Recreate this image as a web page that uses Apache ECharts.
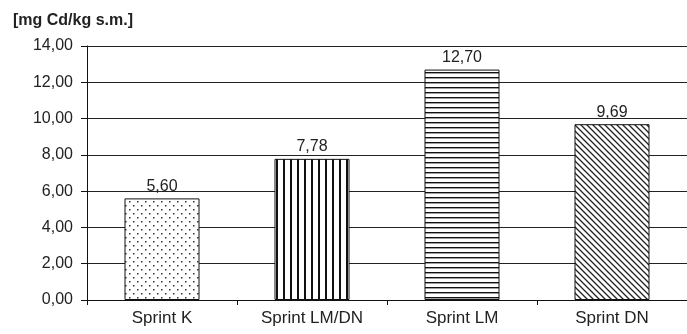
<!DOCTYPE html>
<html>
<head>
<meta charset="utf-8">
<script src="https://cdn.jsdelivr.net/npm/echarts@6/dist/echarts.min.js"></script>
<style>
  html, body { margin: 0; padding: 0; background: #fff; }
  #chart { width: 687px; height: 334px; }
</style>
</head>
<body>
<div id="chart"></div>
<script>
// data
var categories = ['Sprint K', 'Sprint LM/DN', 'Sprint LM', 'Sprint DN'];
var values = [5.60, 7.78, 12.70, 9.69];
var yTicks = [0, 2, 4, 6, 8, 10, 12, 14];
var unitLabel = '[mg Cd/kg s.m.]';

// fill patterns, one per bar
function makePattern(kind) {
  var c = document.createElement('canvas');
  var ctx = c.getContext('2d');
  if (kind === 'dots') {
    c.width = 8; c.height = 8;
    ctx.fillStyle = '#fff'; ctx.fillRect(0, 0, 8, 8);
    ctx.fillStyle = '#333';
    ctx.fillRect(1, 1, 1.5, 1.5);
    ctx.fillRect(5, 5, 1.5, 1.5);
  } else if (kind === 'vert') {
    c.width = 7.6; c.height = 8;
    ctx.fillStyle = '#fff'; ctx.fillRect(0, 0, 8, 8);
    ctx.fillStyle = '#111';
    ctx.fillRect(3, 0, 2, 8);
  } else if (kind === 'horiz') {
    c.width = 8; c.height = 5;
    ctx.fillStyle = '#fff'; ctx.fillRect(0, 0, 8, 5);
    ctx.fillStyle = '#111';
    ctx.fillRect(0, 2, 8, 1.4);
  } else {
    c.width = 6; c.height = 6;
    ctx.fillStyle = '#fff'; ctx.fillRect(0, 0, 6, 6);
    ctx.strokeStyle = '#222';
    ctx.lineWidth = 1.3;
    ctx.beginPath();
    ctx.moveTo(-1, -1); ctx.lineTo(7, 7);
    ctx.moveTo(-4, 2); ctx.lineTo(2, 8);
    ctx.moveTo(2, -4); ctx.lineTo(8, 2);
    ctx.stroke();
  }
  return c;
}
var patterns = ['dots', 'vert', 'horiz', 'diag'];

var chart = echarts.init(document.getElementById('chart'));

function fmt(v) {
  return v.toFixed(2).replace('.', ',');
}

var font = 'Liberation Sans, Arial, sans-serif';

var option = {
  animation: false,
  textStyle: { fontFamily: font },
  title: {
    text: unitLabel,
    left: 8,
    top: 8,
    textStyle: { fontSize: 16, fontWeight: 'bold', color: '#222', fontFamily: font }
  },
  grid: {
    left: 87,
    right: -4,
    top: 46,
    bottom: 34,
    containLabel: false
  },
  xAxis: {
    type: 'category',
    data: categories,
    axisLine: { lineStyle: { color: '#111', width: 1 } },
    axisTick: { show: true, length: 5, lineStyle: { color: '#111' } },
    axisLabel: { color: '#222', fontSize: 17, margin: 10 }
  },
  yAxis: {
    type: 'value',
    min: yTicks[0],
    max: yTicks[yTicks.length - 1],
    interval: 2,
    axisLine: { show: true, lineStyle: { color: '#111', width: 1 } },
    axisTick: { show: true, length: 6, lineStyle: { color: '#111' } },
    axisLabel: { color: '#222', fontSize: 16, margin: 14, formatter: fmt },
    splitLine: { lineStyle: { color: '#222', width: 1 } }
  },
  series: [{
    type: 'bar',
    barWidth: '50%',
    data: values.map(function (v, i) {
      return {
        value: v,
        itemStyle: {
          color: { image: makePattern(patterns[i]), repeat: 'repeat' },
          borderColor: '#111',
          borderWidth: 1
        }
      };
    }),
    label: {
      show: true,
      position: 'top',
      distance: 4,
      color: '#222',
      fontSize: 16,
      formatter: function (p) { return fmt(p.value); }
    }
  }]
};

chart.setOption(option);
</script>
</body>
</html>
